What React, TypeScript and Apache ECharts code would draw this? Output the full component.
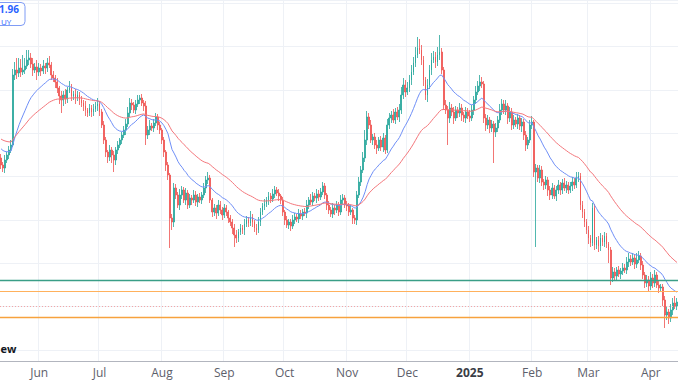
import React, { useEffect, useRef } from "react";
import * as echarts from "echarts";

// Daily candles, first day 2024-05-13 (crypto, 7 days a week)
const START_YEAR = 2024;
const START_MONTH = 4; // May (0-based)
const START_DAY = 13;
const MONTHS = ["Jan", "Feb", "Mar", "Apr", "May", "Jun", "Jul", "Aug", "Sep", "Oct", "Nov", "Dec"];

const firstOpen = 22.2;
const closes = [
  21.5, 21.2, 22.0, 22.5, 23.0, 23.5, 30.5, 31.0, 30.7, 31.2,
  30.8, 31.0, 31.4, 32.0, 32.2, 31.6, 31.0, 31.3, 30.8, 31.2,
  30.9, 31.4, 31.2, 31.7, 31.5, 30.5, 30.2, 29.8, 29.2, 28.4,
  28.0, 28.5, 28.1, 29.0, 29.2, 28.4, 28.6, 28.2, 28.5, 28.0,
  27.7, 27.4, 27.0, 26.7, 27.2, 26.8, 27.1, 27.4, 27.6, 26.8,
  25.5, 24.0, 22.8, 22.3, 23.0, 22.5, 22.0, 23.0, 23.5, 24.0,
  24.5, 25.0, 25.6, 26.7, 27.7, 27.5, 27.0, 27.6, 28.0, 28.2,
  27.7, 27.4, 24.5, 25.0, 25.4, 25.2, 25.7, 26.3, 25.5, 25.0,
  24.0, 22.8, 21.5, 20.5, 16.2, 15.8, 19.2, 18.5, 17.5, 18.5,
  19.0, 18.0, 18.7, 17.5, 18.2, 18.0, 18.5, 17.8, 18.3, 18.0,
  18.5, 19.2, 20.0, 20.2, 18.0, 16.8, 17.2, 16.7, 17.5, 17.0,
  16.5, 17.2, 16.8, 16.2, 15.8, 15.2, 14.5, 14.2, 14.8, 15.2,
  15.0, 15.6, 16.0, 15.7, 16.3, 15.8, 15.2, 15.0, 15.8, 16.8,
  17.4, 17.6, 18.0, 18.4, 18.1, 18.6, 19.0, 18.7, 18.4, 18.0,
  16.8, 16.0, 15.5, 15.8, 15.4, 16.0, 16.3, 16.1, 16.6, 16.4,
  16.8, 16.7, 17.5, 18.0, 17.8, 18.4, 18.2, 18.6, 18.3, 18.8,
  19.4, 18.5, 17.5, 17.0, 16.6, 17.2, 17.0, 17.5, 16.8, 18.0,
  18.2, 17.5, 17.4, 16.8, 17.0, 16.2, 16.0, 18.5, 19.8, 21.0,
  22.2, 24.0, 26.3, 25.5, 24.0, 24.3, 23.5, 23.2, 24.0, 23.3,
  24.2, 23.0, 25.5, 26.2, 26.5, 26.0, 26.8, 26.3, 27.0, 28.5,
  29.5, 28.8, 29.2, 30.0, 30.8, 31.7, 32.5, 33.2, 33.0, 32.0,
  30.0, 28.5, 29.5, 31.0, 32.0, 32.3, 31.8, 32.5, 32.8, 31.0,
  27.5, 27.0, 26.2, 27.2, 26.8, 26.2, 27.0, 26.7, 27.2, 26.5,
  26.2, 26.8, 26.4, 26.2, 27.0, 28.0, 28.8, 29.4, 29.8, 29.6,
  26.2, 25.5, 26.0, 25.2, 25.6, 24.8, 25.2, 26.0, 27.0, 27.6,
  27.0, 27.4, 26.2, 26.8, 25.5, 26.0, 25.6, 26.2, 25.4, 25.8,
  24.5, 23.5, 24.0, 25.5, 25.8, 20.8, 21.2, 20.2, 21.0, 19.8,
  19.5, 20.0, 19.0, 18.5, 19.2, 18.4, 19.0, 19.5, 19.0, 19.7,
  19.2, 19.5, 19.0, 19.4, 19.8, 19.5, 20.2, 20.4, 17.5, 16.8,
  15.8, 15.0, 14.2, 13.7, 17.2, 13.5, 14.0, 13.4, 14.2, 13.8,
  14.4, 13.6, 13.0, 10.2, 10.8, 10.4, 11.0, 10.6, 10.9, 11.2,
  11.0, 11.8, 12.1, 11.8, 12.2, 11.6, 12.0, 12.4, 11.5, 10.5,
  9.7, 10.0, 9.4, 10.2, 9.7, 10.5, 9.5, 9.2, 9.3, 8.0,
  6.5, 6.8, 6.2, 7.0, 7.7, 7.4, 7.8,
];

// upper / lower wick lengths, in tenths of a price unit
const upWick = [
  4, 3, 5, 3, 4, 5, 6, 8, 12, 10,
  9, 15, 8, 10, 8, 5, 6, 4, 7, 5,
  4, 6, 3, 5, 7, 3, 4, 3, 4, 2,
  5, 4, 6, 3, 7, 4, 3, 5, 4, 3,
  4, 3, 5, 2, 4, 3, 5, 4, 6, 3,
  3, 4, 3, 2, 5, 3, 4, 3, 4, 2,
  3, 4, 5, 6, 5, 4, 3, 4, 5, 3,
  4, 3, 5, 4, 6, 3, 4, 4, 3, 3,
  2, 3, 2, 3, 2, 4, 5, 4, 3, 6,
  4, 3, 5, 3, 4, 3, 5, 4, 3, 4,
  3, 5, 4, 6, 3, 2, 4, 3, 5, 4,
  3, 4, 3, 2, 3, 3, 4, 5, 3, 4,
  3, 5, 4, 3, 6, 3, 2, 4, 5, 4,
  3, 5, 3, 4, 3, 5, 4, 3, 4, 2,
  3, 2, 4, 3, 3, 5, 4, 3, 5, 4,
  3, 4, 5, 3, 6, 4, 3, 5, 4, 4,
  4, 3, 2, 4, 3, 5, 3, 4, 3, 5,
  4, 3, 4, 3, 5, 2, 3, 4, 5, 4,
  6, 10, 6, 4, 5, 3, 4, 5, 3, 4,
  5, 3, 6, 5, 4, 6, 4, 5, 6, 8,
  7, 5, 6, 5, 7, 6, 8, 11, 9, 5,
  4, 3, 6, 5, 7, 6, 5, 8, 17, 4,
  3, 5, 4, 6, 4, 5, 4, 3, 5, 4,
  3, 5, 4, 6, 5, 4, 6, 5, 7, 5,
  3, 4, 5, 3, 4, 3, 5, 4, 6, 5,
  4, 6, 3, 5, 4, 5, 3, 4, 3, 4,
  3, 4, 3, 5, 6, 2, 4, 3, 5, 4,
  3, 4, 3, 4, 5, 3, 4, 5, 3, 4,
  5, 4, 3, 4, 5, 4, 6, 4, 3, 4,
  3, 3, 4, 3, 5, 4, 3, 4, 5, 3,
  4, 3, 2, 3, 5, 4, 3, 4, 3, 5,
  4, 5, 6, 4, 5, 4, 7, 5, 3, 4,
  3, 5, 4, 6, 4, 5, 3, 4, 3, 3,
  4, 5, 3, 6, 5, 7, 4,
];
const lowWick = [
  4, 4, 5, 3, 4, 3, 2, 5, 6, 4,
  5, 3, 4, 3, 5, 4, 6, 3, 8, 4,
  5, 3, 6, 4, 3, 5, 4, 6, 5, 8,
  13, 6, 5, 4, 3, 5, 4, 6, 3, 5,
  4, 5, 6, 4, 3, 5, 4, 3, 5, 4,
  3, 4, 5, 6, 4, 8, 12, 5, 4, 3,
  4, 3, 5, 3, 4, 5, 3, 4, 3, 4,
  3, 5, 10, 4, 5, 3, 4, 3, 5, 4,
  4, 5, 6, 5, 30, 8, 5, 4, 3, 5,
  4, 3, 5, 4, 3, 5, 3, 4, 5, 3,
  4, 3, 5, 4, 3, 5, 4, 6, 3, 4,
  5, 3, 4, 5, 4, 6, 12, 5, 4, 3,
  4, 5, 3, 4, 3, 5, 4, 5, 3, 4,
  3, 4, 3, 5, 4, 3, 4, 3, 5, 4,
  4, 5, 3, 4, 5, 3, 4, 3, 4, 3,
  4, 3, 5, 4, 3, 4, 3, 5, 4, 3,
  3, 4, 5, 4, 3, 4, 5, 3, 4, 3,
  4, 3, 5, 4, 3, 6, 4, 5, 3, 4,
  3, 4, 5, 4, 3, 5, 4, 6, 3, 4,
  5, 4, 3, 4, 5, 3, 4, 3, 5, 4,
  4, 5, 3, 4, 5, 3, 4, 3, 4, 5,
  6, 5, 7, 4, 5, 3, 6, 4, 5, 4,
  5, 4, 27, 5, 4, 6, 3, 5, 4, 6,
  4, 5, 3, 4, 3, 5, 4, 3, 5, 4,
  5, 6, 4, 5, 4, 31, 5, 4, 3, 5,
  4, 5, 6, 4, 5, 4, 3, 5, 4, 6,
  5, 6, 4, 3, 4, 5, 75, 4, 5, 4,
  5, 4, 6, 5, 4, 3, 5, 4, 5, 4,
  3, 5, 4, 3, 5, 4, 3, 4, 5, 6,
  5, 4, 6, 4, 3, 5, 4, 6, 5, 4,
  5, 4, 13, 7, 4, 5, 4, 3, 5, 4,
  3, 4, 5, 4, 3, 5, 4, 3, 5, 4,
  5, 4, 6, 4, 5, 4, 3, 5, 4, 6,
  13, 5, 6, 4, 5, 3, 4,
];

// moving-average starting values read at the left edge
const fastSeed = 23.3;
const slowSeed = 24.2;
const FAST_PERIOD = 20;
const SLOW_PERIOD = 50;

// horizontal levels
const greenLevel = 9.95;
const orangeLevelHigh = 8.85;
const dottedLevel = 7.33;
const orangeLevelLow = 6.25;

const priceMin = 3.0;
const priceMax = 38.0;
const priceStep = 13 / 3;

// visible fragments of the cropped labels
const priceTag = "1.96";
const sideTag = "UY";
const watermark = "ew";

function buildDates(n: number): string[] {
  const out: string[] = [];
  for (let i = 0; i < n; i++) {
    const d = new Date(Date.UTC(START_YEAR, START_MONTH, START_DAY + i));
    const y = d.getUTCFullYear();
    const m = String(d.getUTCMonth() + 1).padStart(2, "0");
    const dd = String(d.getUTCDate()).padStart(2, "0");
    out.push(`${y}-${m}-${dd}`);
  }
  return out;
}

function ema(values: number[], period: number, seed: number): number[] {
  const k = 2 / (period + 1);
  let prev = seed;
  return values.map((v) => {
    prev = prev + (v - prev) * k;
    return +prev.toFixed(3);
  });
}

export default function App() {
  const ref = useRef<HTMLDivElement>(null);
  useEffect(() => {
    if (!ref.current) return;
    const chart = echarts.init(ref.current, undefined, { renderer: "svg" });
    const dates = buildDates(closes.length);
    const candles = closes.map((c, i) => {
      const o = i === 0 ? firstOpen : closes[i - 1];
      const hi = Math.max(o, c) + upWick[i] / 10;
      const lo = Math.min(o, c) - lowWick[i] / 10;
      return [o, c, +lo.toFixed(2), +hi.toFixed(2)];
    });
    const fast = ema(closes, FAST_PERIOD, fastSeed);
    const slow = ema(closes, SLOW_PERIOD, slowSeed);
    const isMonthStart = (_i: number, v: string) => v.slice(8) === "01";
    const gridColor = "#eef1f6";
    const font = "Open Sans";

    chart.setOption({
      animation: false,
      backgroundColor: "#ffffff",
      grid: [
        { left: 0, right: 0, top: 0, bottom: 31, containLabel: false, outerBoundsMode: "none" },
        { left: 0, right: 0, top: 0, bottom: 20, containLabel: false, outerBoundsMode: "none" },
      ],
      xAxis: [
        { type: "category", gridIndex: 0, data: dates, boundaryGap: true, show: false },
        {
          type: "category",
          gridIndex: 1,
          data: dates,
          boundaryGap: true,
          axisLine: { show: true, lineStyle: { color: "#b2b5be", width: 1 } },
          axisTick: { show: false },
          splitLine: { show: true, interval: isMonthStart, lineStyle: { color: gridColor, width: 1 } },
          axisLabel: {
            interval: isMonthStart,
            margin: 5,
            color: "#5d606b",
            fontSize: 12,
            fontFamily: font,
            formatter: (v: string) => {
              const m = parseInt(v.slice(5, 7), 10) - 1;
              if (m === 0) return `{b|${v.slice(0, 4)}}`;
              return MONTHS[m];
            },
            rich: {
              b: { fontWeight: "bold", fontSize: 12, fontFamily: font, color: "#3a3d46" },
            },
          },
        },
      ],
      yAxis: [
        {
          type: "value",
          gridIndex: 0,
          min: priceMin,
          max: priceMax,
          interval: priceStep,
          axisLine: { show: false },
          axisTick: { show: false },
          axisLabel: { show: false },
          splitLine: { show: true, lineStyle: { color: gridColor, width: 1 } },
        },
        { type: "value", gridIndex: 1, min: 0, max: 1, show: false },
      ],
      series: [
        {
          type: "candlestick",
          xAxisIndex: 0,
          yAxisIndex: 0,
          data: candles,
          barWidth: "65%",
          itemStyle: {
            color: "#26a69a",
            color0: "#ef5350",
            borderColor: "#26a69a",
            borderColor0: "#ef5350",
            borderWidth: 0.8,
          },
          markLine: {
            silent: true,
            symbol: ["none", "none"],
            label: { show: false },
            data: [
              { yAxis: greenLevel, lineStyle: { color: "#3a9e87", width: 1.3, type: "solid" } },
              { yAxis: orangeLevelHigh, lineStyle: { color: "#ffb15c", width: 1.2, type: "solid" } },
              { yAxis: dottedLevel, lineStyle: { color: "#f3a6a6", width: 1, type: [1, 2] } },
              { yAxis: orangeLevelLow, lineStyle: { color: "#f7a23d", width: 1.3, type: "solid" } },
            ],
          },
        },
        {
          type: "line",
          xAxisIndex: 0,
          yAxisIndex: 0,
          data: fast,
          showSymbol: false,
          lineStyle: { color: "#6f8ff7", width: 1 },
          z: 3,
        },
        {
          type: "line",
          xAxisIndex: 0,
          yAxisIndex: 0,
          data: slow,
          showSymbol: false,
          lineStyle: { color: "#f4777c", width: 1 },
          z: 3,
        },
      ],
      graphic: [
        {
          type: "rect",
          shape: { x: -40, y: 2.5, width: 65, height: 23, r: 4 },
          style: { fill: "#ffffff", stroke: "#7f9cf5", lineWidth: 1 },
          z: 10,
        },
        {
          type: "text",
          style: { text: priceTag, x: 19, y: 3.5, align: "right", verticalAlign: "top", lineHeight: 10, fill: "#2962ff", fontSize: 10, fontWeight: "bold", fontFamily: font },
          z: 11,
        },
        {
          type: "text",
          style: { text: sideTag, x: 1, y: 17, align: "left", verticalAlign: "top", lineHeight: 8, fill: "#2962ff", fontSize: 8, fontFamily: font },
          z: 11,
        },
        {
          type: "text",
          style: { text: watermark, x: 0.5, y: 348, align: "left", verticalAlign: "middle", fill: "#131722", fontSize: 11, fontWeight: "bold", fontFamily: font },
          z: 11,
        },
      ],
    });
    return () => chart.dispose();
  }, []);
  return <div ref={ref} style={{ position: "fixed", left: 0, top: 0, width: 678, height: 381 }} />;
}
